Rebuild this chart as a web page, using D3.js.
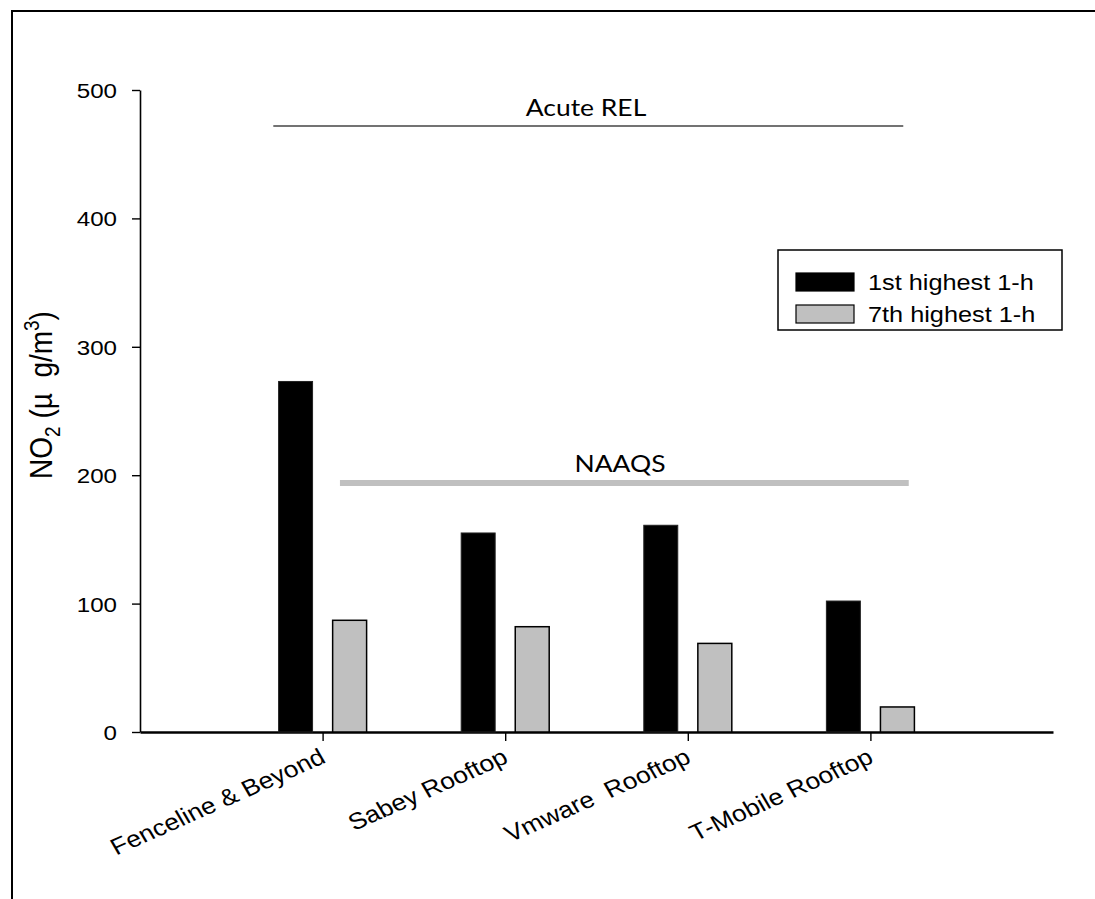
<!DOCTYPE html>
<html>
<head>
<meta charset="utf-8">
<script src="https://cdn.jsdelivr.net/npm/d3@7"></script>
<style>
  body { margin: 0; background: #fff; }
  svg { display: block; }
</style>
</head>
<body>
<div id="chart"></div>
<script>
// chart values
const categories = ["Fenceline & Beyond", "Sabey Rooftop", "Vmware  Rooftop", "T-Mobile Rooftop"];
const seriesNames = ["1st highest 1-h", "7th highest 1-h"];
const firstHighest = [273, 155, 161, 102];
const seventhHighest = [87, 82, 69, 19.5];
const yTicks = [0, 100, 200, 300, 400, 500];
const refNames = ["Acute REL", "NAAQS"];
const refValues = [472, 194];

const width = 1095;
const height = 899;
const SX = 1.15; // the original picture is stretched sideways a bit

const svg = d3
  .select("#chart")
  .append("svg")
  .attr("width", width)
  .attr("height", height);

// outer frame
svg
  .append("rect")
  .attr("x", 12)
  .attr("y", 11)
  .attr("width", 1110)
  .attr("height", 920)
  .attr("fill", "none")
  .attr("stroke", "#000")
  .attr("stroke-width", 2);

const x = d3.scaleLinear().domain([0, 5]).range([140, 1053]);
const y = d3.scaleLinear().domain([0, 500]).range([732, 90]);

const stretch = (tx, ty, rot) =>
  `translate(${tx},${ty}) scale(${SX},1)` + (rot ? ` rotate(${rot})` : "");

// y axis
const yAxis = svg
  .append("g")
  .attr("transform", `translate(${x(0)},0)`)
  .call(d3.axisLeft(y).tickValues(yTicks).tickSize(8).tickSizeOuter(0).tickFormat(d3.format("d")));
yAxis.attr("font-size", 21).attr("font-family", "'Liberation Sans', Arial, sans-serif");
yAxis.select(".domain").attr("stroke", "#000").attr("stroke-width", 1.6);
yAxis.selectAll(".tick line").attr("stroke", "#000").attr("stroke-width", 1.4);
yAxis
  .selectAll(".tick text")
  .attr("x", 0)
  .attr("dy", "0.36em")
  .attr("transform", stretch(-23, 0))
  .attr("fill", "#000");

// x axis
const xAxis = svg
  .append("g")
  .attr("transform", `translate(0,${y(0)})`)
  .call(
    d3.axisBottom(x)
      .tickValues(categories.map((_, i) => i + 1))
      .tickSize(9)
      .tickSizeOuter(0)
      .tickFormat((d) => categories[d - 1])
  );
xAxis.attr("font-size", 23).attr("font-family", "'Liberation Sans', Arial, sans-serif");
xAxis.select(".domain").attr("stroke", "#000").attr("stroke-width", 2.5);
xAxis.selectAll(".tick line").attr("stroke", "#000").attr("stroke-width", 1.4);
xAxis
  .selectAll(".tick text")
  .attr("x", 0)
  .attr("y", 0)
  .attr("dy", 0)
  .attr("text-anchor", "end")
  .attr("transform", stretch(4, 30, -27))
  .style("white-space", "pre")
  .attr("fill", "#000");

// bars
const barW = 0.186;
const barGap = 0.055;

svg
  .append("g")
  .selectAll("rect")
  .data(firstHighest)
  .enter()
  .append("rect")
  .attr("x", (d, i) => x(i + 1 - barGap - barW))
  .attr("width", x(barW) - x(0))
  .attr("y", (d) => y(d))
  .attr("height", (d) => y(0) - y(d))
  .attr("fill", "#000")
  .attr("stroke", "#222")
  .attr("stroke-width", 1);

svg
  .append("g")
  .selectAll("rect")
  .data(seventhHighest)
  .enter()
  .append("rect")
  .attr("x", (d, i) => x(i + 1 + barGap))
  .attr("width", x(barW) - x(0))
  .attr("y", (d) => y(d))
  .attr("height", (d) => y(0) - y(d))
  .attr("fill", "#c0c0c0")
  .attr("stroke", "#000")
  .attr("stroke-width", 1.5);

// reference lines
svg
  .append("line")
  .attr("x1", x(0.73))
  .attr("x2", x(4.18))
  .attr("y1", y(refValues[0]))
  .attr("y2", y(refValues[0]))
  .attr("stroke", "#444")
  .attr("stroke-width", 1.5);

svg
  .append("text")
  .attr("transform", stretch(586, y(refValues[0]) - 10))
  .attr("text-anchor", "middle")
  .style("font-family", "Lato, 'Open Sans', sans-serif")
  .style("font-size", "23px")
  .text(refNames[0]);

svg
  .append("line")
  .attr("x1", x(1.095))
  .attr("x2", x(4.21))
  .attr("y1", y(refValues[1]))
  .attr("y2", y(refValues[1]))
  .attr("stroke", "#c0c0c0")
  .attr("stroke-width", 6);

svg
  .append("text")
  .attr("transform", stretch(620, y(refValues[1]) - 11))
  .attr("text-anchor", "middle")
  .style("font-family", "Lato, 'Open Sans', sans-serif")
  .style("font-size", "23px")
  .text(refNames[1]);

// y axis title
const yTitle = svg
  .append("text")
  .attr("transform", `translate(52,395) scale(${SX},1) rotate(-90)`)
  .attr("text-anchor", "middle")
  .style("white-space", "pre")
  .style("font-family", "'Liberation Sans', Arial, sans-serif")
  .style("font-size", "28px");
yTitle.append("tspan").text("NO");
yTitle.append("tspan").attr("dy", 7).style("font-size", "19px").text("2");
yTitle.append("tspan").attr("dy", -7).text(" (µ  g/m");
yTitle.append("tspan").attr("dy", -11).style("font-size", "19px").text("3");
yTitle.append("tspan").attr("dy", 11).text(")");

// legend
const legend = svg.append("g");
legend
  .append("rect")
  .attr("x", 778)
  .attr("y", 250)
  .attr("width", 284)
  .attr("height", 80)
  .attr("fill", "#fff")
  .attr("stroke", "#000")
  .attr("stroke-width", 1.5);

const legendFill = ["#000", "#c0c0c0"];
seriesNames.forEach((name, i) => {
  const row = 273 + i * 32;
  legend
    .append("rect")
    .attr("x", 796)
    .attr("y", row)
    .attr("width", 58)
    .attr("height", 18)
    .attr("fill", legendFill[i])
    .attr("stroke", "#000")
    .attr("stroke-width", 1.2);
  legend
    .append("text")
    .attr("transform", stretch(868, row + 17))
    .style("font-family", "'Liberation Sans', Arial, sans-serif")
    .style("font-size", "22px")
    .text(name);
});
</script>
</body>
</html>
